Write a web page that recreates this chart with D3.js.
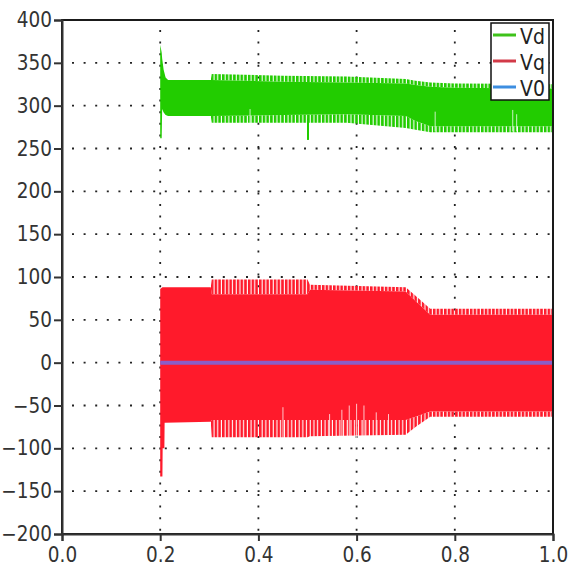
<!DOCTYPE html>
<html>
<head>
<meta charset="utf-8">
<script src="https://cdn.jsdelivr.net/npm/d3@7"></script>
<style>
  body { margin: 0; background: #fff; }
  text { font-family: "DejaVu Sans Condensed", "Liberation Sans", sans-serif; }
</style>
</head>
<body>
<script>
const WIDTH = 570;
const HEIGHT = 570;

// axis ticks
const xTicks = [0, 0.2, 0.4, 0.6, 0.8, 1.0];
const yTicks = [-200, -150, -100, -50, 0, 50, 100, 150, 200, 250, 300, 350, 400];
const xGrid = [0.2, 0.4, 0.6, 0.8];
const yGrid = [-150, -100, -50, 0, 50, 100, 150, 200, 250, 300, 350];

const seriesNames = ["Vd", "Vq", "V0"];

// Vd envelope: outer = tips of the ripple, inner = solid band
const vdT      = [0.200, 0.203, 0.204, 0.207, 0.211, 0.216, 0.303, 0.305, 0.45, 0.58, 0.70, 0.72, 0.75, 0.80, 1.00];
const vdTopOut = [371,   362,   355,   342,   333,   330,   330,   337,   335,  334,  331,  329,  327,  326,  325];
const vdTopIn  = [371,   362,   355,   342,   333,   330,   330,   330,   328,  327,  326,  324,  322,  321,  320];
const vdBotIn  = [262,   262,   296,   292,   289,   288,   288,   288,   289,  290,  288,  282,  276,  276,  276];
const vdBotOut = [262,   262,   296,   292,   289,   288,   288,   280,   280,  280,  274,  272,  269,  269,  269];
// single dips / notches of Vd
const vdSpikeT = [0.501];
const vdSpikeV = [260];
const vdNotchT = [0.383, 0.76, 0.918, 0.926];
const vdNotchV = [296, 293, 295, 290];

// Vq envelope
const vqT      = [0.200, 0.2045, 0.205, 0.2085, 0.209, 0.303, 0.305, 0.50, 0.505, 0.70, 0.72, 0.75, 1.00];
const vqTopOut = [86,    88,     88,    88,     88,    88,    97,    97,   91,    88,   78,   63,   63];
const vqTopIn  = [86,    88,     88,    88,     88,    88,    80,    80,   85,    83,   72,   56,   56];
const vqBotIn  = [-133,  -133,   -100,  -100,   -70,   -69,   -67,   -67,  -67,   -67,  -63,  -57,  -57];
const vqBotOut = [-133,  -133,   -100,  -100,   -70,   -69,   -87,   -87,  -86,   -84,  -75,  -63,  -63];
// taller gaps in the lower ripple of Vq
const vqNotchT = [0.45, 0.545, 0.57, 0.585, 0.60, 0.615, 0.64, 0.665];
const vqNotchV = [-52, -60, -55, -50, -48, -50, -58, -60];

// V0
const v0T = [0.2, 1.0];
const v0V = [0, 0];

const svg = d3.select("body").append("svg")
    .attr("width", WIDTH)
    .attr("height", HEIGHT);

svg.append("rect").attr("width", WIDTH).attr("height", HEIGHT).attr("fill", "#fff");

const x = d3.scaleLinear().domain([0, 1]).range([62, 553]);
const y = d3.scaleLinear().domain([-200, 400]).range([534, 20]);

// ripple texture
const defs = svg.append("defs");
function comb(id, color) {
    const p = defs.append("pattern")
        .attr("id", id)
        .attr("patternUnits", "userSpaceOnUse")
        .attr("width", 3.7)
        .attr("height", 40);
    p.append("rect").attr("width", 2.6).attr("height", 40).attr("fill", color);
}
const GREEN = "#22cc00";
const RED = "#ff1a2b";
comb("combG", GREEN);
comb("combR", RED);

// grid
const grid = svg.append("g").attr("stroke", "#222").attr("stroke-width", 1.8)
    .attr("stroke-dasharray", "2,9.6");
grid.selectAll(".hg").data(yGrid).join("line")
    .attr("x1", x(0) + 10).attr("x2", x(1))
    .attr("y1", d => y(d)).attr("y2", d => y(d));
grid.selectAll(".vg").data(xGrid).join("line")
    .attr("x1", d => x(d)).attr("x2", d => x(d))
    .attr("y1", y(400) + 10).attr("y2", y(-200));

function band(t, hi, lo) {
    return d3.area()
        .x((d, i) => x(t[i]))
        .y0((d, i) => y(lo[i]))
        .y1((d, i) => y(hi[i]))(t);
}

function drawSignal(t, topOut, topIn, botIn, botOut, color, pat) {
    const g = svg.append("g");
    g.append("path").attr("d", band(t, topIn, botIn)).attr("fill", color);
    g.append("path").attr("d", band(t, topOut, topIn)).attr("fill", "url(#" + pat + ")");
    g.append("path").attr("d", band(t, botIn, botOut)).attr("fill", "url(#" + pat + ")");
    return g;
}

const gVd = drawSignal(vdT, vdTopOut, vdTopIn, vdBotIn, vdBotOut, GREEN, "combG");
gVd.selectAll(".sp").data(vdSpikeT).join("line")
    .attr("x1", d => x(d)).attr("x2", d => x(d))
    .attr("y1", y(285)).attr("y2", (d, i) => y(vdSpikeV[i]))
    .attr("stroke", GREEN).attr("stroke-width", 2);
gVd.selectAll(".nt").data(vdNotchT).join("line")
    .attr("x1", d => x(d)).attr("x2", d => x(d))
    .attr("y1", (d, i) => y(vdNotchV[i]))
    .attr("y2", y(270))
    .attr("stroke", "#fff").attr("stroke-opacity", 0.75).attr("stroke-width", 1);

const gVq = drawSignal(vqT, vqTopOut, vqTopIn, vqBotIn, vqBotOut, RED, "combR");
gVq.selectAll(".nt").data(vqNotchT).join("line")
    .attr("x1", d => x(d)).attr("x2", d => x(d))
    .attr("y1", (d, i) => y(vqNotchV[i]))
    .attr("y2", y(-88))
    .attr("stroke", "#fff").attr("stroke-opacity", 0.75).attr("stroke-width", 1);

svg.append("path")
    .attr("d", d3.line().x((d, i) => x(v0T[i])).y((d, i) => y(v0V[i]))(v0T))
    .attr("stroke", "#8a5ec8").attr("stroke-width", 4).attr("fill", "none");

// frame
svg.append("rect")
    .attr("x", x(0)).attr("y", y(400))
    .attr("width", x(1) - x(0)).attr("height", y(-200) - y(400))
    .attr("fill", "none").attr("stroke", "#1a1a1a").attr("stroke-width", 2);

// axes
const yAxis = svg.append("g")
    .attr("transform", `translate(${x(0)},0)`)
    .call(d3.axisLeft(y).tickValues(yTicks).tickSize(8).tickPadding(2).tickFormat(d3.format("d")));
const xAxis = svg.append("g")
    .attr("transform", `translate(0,${y(-200)})`)
    .call(d3.axisBottom(x).tickValues(xTicks).tickSize(7).tickPadding(6).tickFormat(d3.format(".1f")));
[yAxis, xAxis].forEach(a => {
    a.select(".domain").attr("stroke", "#333").attr("stroke-width", 2);
    a.selectAll(".tick line").attr("stroke", "#333").attr("stroke-width", 2);
    a.selectAll("text").attr("fill", "#333").style("font-size", "20.5px")
        .style("font-family", "'DejaVu Sans Condensed', 'Liberation Sans', sans-serif");
});

// legend
const legendColors = ["#3ec21a", "#d23a48", "#3d8ee0"];
const lg = svg.append("g");
lg.append("rect").attr("x", 491).attr("y", 23).attr("width", 58).attr("height", 77)
    .attr("fill", "#fff").attr("stroke", "#111").attr("stroke-width", 1.5);
const rows = lg.selectAll(".row").data(seriesNames).join("g")
    .attr("transform", (d, i) => `translate(0,${35 + i * 26})`);
rows.append("line").attr("x1", 493).attr("x2", 516)
    .attr("stroke", (d, i) => legendColors[i]).attr("stroke-width", 3);
rows.append("text").attr("x", 520).attr("y", 9).text(d => d)
    .attr("fill", "#222").style("font-size", "21px");
</script>
</body>
</html>
